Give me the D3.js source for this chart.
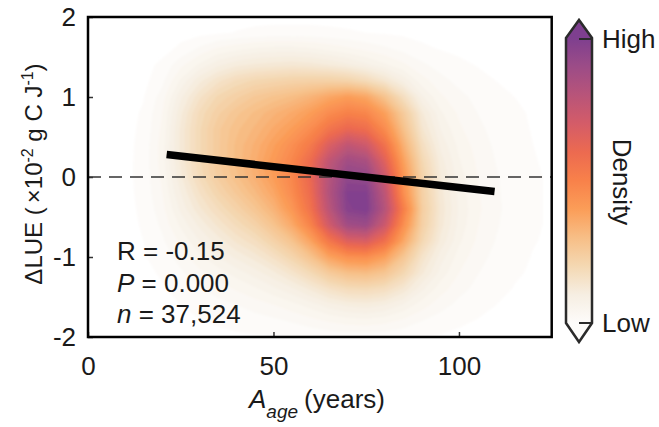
<!DOCTYPE html>
<html><head><meta charset="utf-8">
<script src="https://cdn.jsdelivr.net/npm/d3@7"></script>
<style>
body{margin:0;background:#fff}
svg{display:block}
text{font-family:"Liberation Sans",Arial,Helvetica,sans-serif;fill:#1a1a1a}
</style>
</head><body>
<svg id="chart" width="659" height="427"></svg>
<script>
// ---------------- data ----------------
const xTicks = [0, 50, 100];
const yTicks = [-2, -1, 0, 1, 2];
const gridX = [10,15,20,25,30,35,40,45,50,55,60,65,70,75,80,85,90,95,100,105,110,115,120,125];
const gridY = [2.0,1.8,1.6,1.4,1.2,1.0,0.8,0.6,0.4,0.2,0.0,-0.2,-0.4,-0.6,-0.8,-1.0,-1.2,-1.4,-1.6,-1.8,-2.0];
// relative point density (0 = none, 10 = highest), one row per gridY value
const densityRows = [
  [0,0,0,0,0,0,0,0,0,0,0,0,0,0,0,0,0,0,0,0,0,0,0,0],
  [0,0,0,0,0,0.03,0.07,0.1,0.12,0.12,0.12,0.1,0.08,0.06,0.04,0.02,0,0,0,0,0,0,0,0],
  [0,0,0,0.1,0.3,0.5,0.6,0.7,0.75,0.75,0.7,0.6,0.5,0.4,0.3,0.2,0.1,0.05,0.02,0,0,0,0,0],
  [0,0,0.1,0.4,0.7,1.0,1.2,1.3,1.35,1.4,1.35,1.25,1.1,0.9,0.7,0.5,0.3,0.18,0.1,0.05,0.02,0,0,0],
  [0,0,0.2,0.7,1.2,1.6,1.9,2.1,2.2,2.3,2.35,2.35,2.25,1.95,1.5,1.0,0.55,0.33,0.2,0.12,0.06,0.03,0.01,0],
  [0,0.05,0.35,1.0,1.6,2.1,2.4,2.7,2.9,3.1,3.4,3.8,4.1,3.8,2.9,1.8,0.9,0.5,0.32,0.2,0.12,0.06,0.03,0.01],
  [0,0.08,0.45,1.2,1.9,2.4,2.8,3.1,3.4,3.7,4.1,4.7,5.1,4.9,4.0,2.6,1.3,0.7,0.42,0.26,0.16,0.09,0.04,0.02],
  [0,0.1,0.5,1.3,2.0,2.6,3.0,3.3,3.7,4.1,4.7,5.6,6.2,5.9,4.7,3.0,1.5,0.85,0.5,0.31,0.19,0.1,0.05,0.02],
  [0,0.12,0.55,1.3,2.0,2.6,3.1,3.5,4.0,4.6,5.4,6.8,7.8,7.3,5.7,3.5,1.8,1.0,0.6,0.37,0.22,0.12,0.06,0.03],
  [0,0.13,0.55,1.3,2.0,2.6,3.1,3.6,4.2,4.9,6.0,7.8,8.9,8.6,6.6,4.0,2.1,1.15,0.68,0.42,0.25,0.14,0.07,0.03],
  [0,0.13,0.5,1.2,1.9,2.5,3.0,3.5,4.1,4.9,6.2,8.2,9.5,9.4,7.4,4.4,2.3,1.25,0.75,0.46,0.28,0.15,0.08,0.04],
  [0,0.12,0.45,1.05,1.65,2.2,2.7,3.2,3.8,4.7,6.0,8.3,9.9,9.9,7.9,4.6,2.4,1.35,0.78,0.48,0.29,0.16,0.08,0.04],
  [0,0.1,0.38,0.9,1.4,1.85,2.3,2.8,3.4,4.3,5.7,8.0,9.8,10,8.2,5.2,2.5,1.4,0.82,0.5,0.3,0.17,0.08,0.04],
  [0,0.08,0.3,0.7,1.1,1.5,1.9,2.3,2.9,3.7,5.0,7.2,8.9,9.1,7.4,4.6,2.4,1.35,0.78,0.47,0.28,0.16,0.08,0.04],
  [0,0.06,0.22,0.5,0.85,1.15,1.5,1.8,2.3,2.9,3.9,5.5,6.7,6.9,5.8,3.8,2.1,1.2,0.7,0.42,0.25,0.14,0.07,0.03],
  [0,0.04,0.15,0.35,0.6,0.85,1.1,1.35,1.7,2.2,2.9,3.9,4.5,4.6,4.0,2.8,1.6,0.95,0.57,0.34,0.2,0.11,0.05,0.02],
  [0,0.02,0.08,0.22,0.4,0.55,0.75,0.95,1.2,1.55,2.0,2.6,3.0,3.1,2.8,2.1,1.3,0.78,0.46,0.27,0.16,0.08,0.04,0.01],
  [0,0,0.04,0.12,0.24,0.35,0.48,0.62,0.8,1.0,1.3,1.65,1.9,1.95,1.8,1.4,0.9,0.55,0.33,0.2,0.11,0.05,0.02,0.01],
  [0,0,0.02,0.06,0.12,0.18,0.26,0.35,0.45,0.58,0.75,0.95,1.1,1.15,1.05,0.82,0.55,0.34,0.2,0.12,0.06,0.03,0.01,0],
  [0,0,0,0.02,0.05,0.08,0.12,0.16,0.21,0.28,0.37,0.48,0.55,0.58,0.52,0.4,0.26,0.16,0.09,0.05,0.02,0.01,0,0],
  [0,0,0,0,0.01,0.02,0.03,0.04,0.05,0.07,0.09,0.11,0.13,0.13,0.12,0.09,0.06,0.04,0.02,0.01,0,0,0,0]
];
const regX = [21.2, 109.6];
const regY = [0.28, -0.18];
const statLines = [["R", " = -0.15", false], ["P", " = 0.000", true], ["n", " = 37,524", true]];
const colorValues = [0, 1, 2, 3, 4, 5, 6, 7, 8, 9, 10];
const colorHex = ["#fdfcfa","#f6eee2","#f4d8b2","#f7be86","#fb9d58","#f8814a","#ec6a50","#d45c68","#b85479","#9c4c87","#7e3f8f"];

// ---------------- layout ----------------
const svg = d3.select("#chart");
const L = 88, T = 17, R = 551.7, B = 337;
const x = d3.scaleLinear().domain([0, 125]).range([L, R]);
const y = d3.scaleLinear().domain([-2, 2]).range([B, T]);
const color = d3.scaleLinear().domain(colorValues).range(colorHex);
const fs = 26;

const defs = svg.append("defs");
defs.append("clipPath").attr("id", "plotClip")
  .append("rect").attr("x", L).attr("y", T).attr("width", R - L).attr("height", B - T);
defs.append("filter").attr("id", "soft").attr("x", "-5%").attr("y", "-5%").attr("width", "110%").attr("height", "110%")
  .append("feGaussianBlur").attr("stdDeviation", 1.3);

// density contours
const nx = gridX.length, ny = gridY.length;
const gdx = gridX[1] - gridX[0], gdy = gridY[0] - gridY[1];
const thresholds = d3.range(0.06, 10.2, 0.2);
const bands = d3.contours().size([nx, ny]).smooth(true).thresholds(thresholds)(densityRows.flat());
const proj = d3.geoTransform({
  point(px, py) {
    this.stream.point(x(gridX[0] + (px - 0.5) * gdx), y(gridY[0] - (py - 0.5) * gdy));
  }
});
const path = d3.geoPath(proj);
svg.append("g").attr("clip-path", "url(#plotClip)")
  .append("g").attr("filter", "url(#soft)")
  .selectAll("path").data(bands).join("path")
  .attr("d", path)
  .attr("fill", d => color(d.value))
  .attr("stroke", d => color(d.value))
  .attr("stroke-width", 0.5);

// zero line
svg.append("line")
  .attr("x1", x(0)).attr("x2", x(125)).attr("y1", y(0)).attr("y2", y(0))
  .attr("stroke", "#333").attr("stroke-width", 1.3).attr("stroke-dasharray", "13,8");

// regression line
svg.append("line")
  .attr("x1", x(regX[0])).attr("y1", y(regY[0]))
  .attr("x2", x(regX[1])).attr("y2", y(regY[1]))
  .attr("stroke", "#000").attr("stroke-width", 7.5);

// axes
const yAxis = d3.axisLeft(y).tickValues(yTicks).tickFormat(d => String(d)).tickSizeInner(-5).tickSizeOuter(0).tickPadding(12);
const xAxis = d3.axisBottom(x).tickValues(xTicks).tickFormat(d => String(d)).tickSizeInner(-5).tickSizeOuter(0).tickPadding(20);
const gy = svg.append("g").attr("transform", `translate(${L},0)`).call(yAxis);
const gx = svg.append("g").attr("transform", `translate(0,${B})`).call(xAxis);
[gy, gx].forEach(g => {
  g.select(".domain").remove();
  g.selectAll("line").attr("stroke", "#333").attr("stroke-width", 1.5);
  g.selectAll("text").attr("font-size", fs).attr("fill", "#1a1a1a")
    .attr("font-family", '"Liberation Sans",Arial,sans-serif');
});

// frame
svg.append("rect").attr("x", L).attr("y", T).attr("width", R - L).attr("height", B - T)
  .attr("fill", "none").attr("stroke", "#000").attr("stroke-width", 2.5);

// stats text
const st = svg.append("g");
statLines.forEach((s, i) => {
  const t = st.append("text").attr("x", 117).attr("y", 260 + i * 31.7).attr("font-size", fs);
  t.append("tspan").attr("font-style", s[2] ? "italic" : "normal").text(s[0]);
  t.append("tspan").text(s[1]);
});

// y label
const yl = svg.append("text").attr("transform", "translate(42,174) rotate(-90)")
  .attr("text-anchor", "middle").attr("font-size", 24);
yl.append("tspan").text("\u0394LUE (");
yl.append("tspan").attr("dx", 4).text("\u00d710");
yl.append("tspan").attr("font-size", 16).attr("dy", -9).text("-2");
yl.append("tspan").attr("dy", 9).text(" g C J");
yl.append("tspan").attr("font-size", 16).attr("dy", -9).text("-1");
yl.append("tspan").attr("dy", 9).text(")");

// x label
const xl = svg.append("text").attr("x", 317).attr("y", 408).attr("text-anchor", "middle").attr("font-size", fs);
xl.append("tspan").attr("font-style", "italic").text("A");
xl.append("tspan").attr("font-style", "italic").attr("font-size", 19).attr("dy", 10).text("age");
xl.append("tspan").attr("dy", -10).attr("dx", 6).text("(years)");

// colorbar
const cb = { l: 566, r: 592, top: 38, bot: 323, tipTop: 20, tipBot: 342 };
const cbScale = d3.scaleLinear().domain([0, 10]).range([cb.bot, cb.top + 1]);
const grad = defs.append("linearGradient").attr("id", "cbgrad")
  .attr("gradientUnits", "userSpaceOnUse").attr("x1", 0).attr("x2", 0)
  .attr("y1", cb.bot).attr("y2", cb.top);
colorValues.forEach((v, i) => {
  grad.append("stop").attr("offset", v / 10).attr("stop-color", colorHex[i]);
});
const cx = (cb.l + cb.r) / 2;
svg.append("path")
  .attr("d", `M${cb.l},${cb.top}L${cx},${cb.tipTop}L${cb.r},${cb.top}L${cb.r},${cb.bot}L${cx},${cb.tipBot}L${cb.l},${cb.bot}Z`)
  .attr("fill", "url(#cbgrad)").attr("stroke", "#2b2b2b").attr("stroke-width", 2.5).attr("stroke-linejoin", "miter");
[[10, "High"], [0, "Low"]].forEach(([v, lab]) => {
  svg.append("line").attr("x1", cx).attr("x2", cb.r).attr("y1", cbScale(v)).attr("y2", cbScale(v))
    .attr("stroke", "#2b2b2b").attr("stroke-width", 2);
  svg.append("text").attr("x", 602).attr("y", cbScale(v)).attr("dy", "0.35em").attr("font-size", fs).text(lab);
});
svg.append("text").attr("transform", "translate(613,182) rotate(90)")
  .attr("text-anchor", "middle").attr("font-size", fs).text("Density");
</script>
</body></html>
